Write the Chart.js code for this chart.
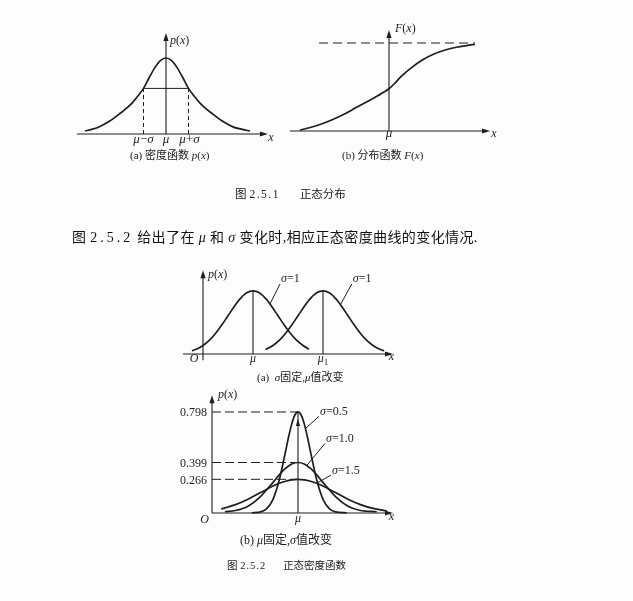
<!DOCTYPE html>
<html><head><meta charset="utf-8">
<script src="https://cdn.jsdelivr.net/npm/chart.js@4.4.1/dist/chart.umd.min.js"></script>
<style>
html,body{margin:0;padding:0;background:#fdfdfd;}
#wrap{position:relative;width:633px;height:601px;overflow:hidden;background:#fdfdfd;}
#c{position:absolute;left:0;top:0;}
.t{position:absolute;white-space:nowrap;color:#1a1a1a;font-family:"Liberation Serif","Noto Sans CJK SC",serif;line-height:1;}
.t i{font-style:italic;}
</style></head>
<body><div id="wrap">
<canvas id="c" width="633" height="601"></canvas>
<div class="t" style="left:130px;top:149.5px;font-size:11px">(a) 密度函数 <i>p</i>(<i>x</i>)</div>
<div class="t" style="left:342px;top:149.5px;font-size:11px">(b) 分布函数 <i>F</i>(<i>x</i>)</div>
<div class="t" style="left:235px;top:189px;font-size:11.5px">图&nbsp;<span style="letter-spacing:1.5px">2.5.1</span><span style="margin-left:20px">正态分布</span></div>
<div class="t" style="left:72px;top:231px;font-size:14px;letter-spacing:0.4px;color:#111">图 <span style="letter-spacing:3px">2.5.2</span> 给出了在 <i>μ</i> 和 <i>σ</i> 变化时,相应正态密度曲线的变化情况.</div>
<div class="t" style="left:257px;top:371.5px;font-size:11px">(a)&nbsp; <i>σ</i>固定,<i>μ</i>值改变</div>
<div class="t" style="left:240px;top:534px;font-size:12px">(b) <i>μ</i>固定,<i>σ</i>值改变</div>
<div class="t" style="left:227px;top:561px;font-size:10.5px">图&nbsp;<span style="letter-spacing:1px">2.5.2</span><span style="margin-left:17px">正态密度函数</span></div>
</div>
<script>
const INK = '#1e1e1e';
const W = 633, H = 601;

// ---------- DATA ----------
// Fig 2.5.1 (a) density p(x): x in units of sigma from mu, y relative to peak
const densityX = [-3.6,-3.3,-3.0,-2.5,-2.0,-1.75,-1.5,-1.25,-1.0,-0.75,-0.5,-0.25,0,0.25,0.5,0.75,1.0,1.25,1.5,1.75,2.0,2.5,3.0,3.4,3.73];
const densityY = [0.04,0.06,0.09,0.17,0.28,0.34,0.41,0.50,0.60,0.74,0.87,0.965,1.00,0.965,0.87,0.74,0.60,0.50,0.41,0.34,0.28,0.17,0.09,0.06,0.04];
const sigmaX = [-1, 1];
const sigmaLevel = 0.60;
const densityTickLabels = ['μ−σ','μ','μ+σ'];

// Fig 2.5.1 (b) distribution F(x)
const cdfX = [-3.96,-3.5,-3.0,-2.5,-2.0,-1.5,-1.0,-0.5,-0.25,0,0.25,0.5,1.0,1.5,2.0,2.5,3.0,3.5,3.82];
const cdfY = [0.01,0.04,0.08,0.13,0.19,0.26,0.33,0.40,0.44,0.48,0.54,0.61,0.72,0.81,0.875,0.92,0.952,0.973,0.985];
const cdfLimit = 1;
const cdfLimitX = [-3.11, 3.82];

// Fig 2.5.2 (a) sigma fixed, mu changes
const muValues = [2, 4.8];
const muLabels = ['μ','μ₁'];
const shiftCurve1X = [-0.44,-0.25,0,0.25,0.5,0.75,1,1.25,1.5,1.75,2,2.25,2.5,2.75,3,3.25,3.5,3.75,4,4.24];
const shiftCurve1Y = [0.020,0.032,0.054,0.086,0.130,0.183,0.242,0.301,0.352,0.387,0.399,0.387,0.352,0.301,0.242,0.183,0.130,0.086,0.054,0.030];
const shiftCurve2X = [2.5,2.8,3.05,3.3,3.55,3.8,4.05,4.3,4.55,4.8,5.05,5.3,5.55,5.8,6.05,6.3,6.55,6.8,7.05,7.24];
const shiftCurve2Y = [0.028,0.054,0.086,0.130,0.183,0.242,0.301,0.352,0.387,0.399,0.387,0.352,0.301,0.242,0.183,0.130,0.086,0.054,0.032,0.020];
const shiftLabels = ['σ=1','σ=1'];

// Fig 2.5.2 (b) mu fixed, sigma changes
const s05X = [-1.85,-1.5,-1.25,-1,-0.75,-0.5,-0.375,-0.25,-0.125,0,0.125,0.25,0.375,0.5,0.75,1,1.25,1.5,1.95];
const s05Y = [0.002,0.009,0.035,0.108,0.260,0.484,0.602,0.704,0.774,0.798,0.774,0.704,0.602,0.484,0.260,0.108,0.035,0.009,0.002];
const s10X = [-2.92,-2.5,-2,-1.5,-1,-0.75,-0.5,-0.25,0,0.25,0.5,0.75,1,1.5,2,2.5,3.15];
const s10Y = [0.010,0.020,0.054,0.130,0.242,0.301,0.352,0.387,0.399,0.387,0.352,0.301,0.242,0.130,0.054,0.020,0.010];
const s15X = [-3.07,-2.5,-2,-1.5,-1,-0.75,-0.5,-0.25,0,0.25,0.5,0.75,1,1.5,2,2.5,3,3.55];
const s15Y = [0.032,0.066,0.109,0.161,0.213,0.235,0.251,0.262,0.266,0.262,0.251,0.235,0.213,0.161,0.109,0.066,0.036,0.016];
const peakValues = [0.798,0.399,0.266];
const peakLabels = ['0.798','0.399','0.266'];
const sigmaLabels = ['σ=0.5','σ=1.0','σ=1.5'];

// ---------- LAYOUT (pixel mapping of each panel) ----------
const layout = {
  a:{x0:166, sx:22.5, y0:134, sy:76},
  b:{x0:389, sx:22.5, y0:131, sy:88},
  c:{x0:203, sx:25,   y0:354, sy:158},
  d:{x0:298, sx:25,   y0:513, sy:126.6}
};
const axes = {
  a:{x:[-3.96,4.53], yAt:0, y:[0,1.33]},
  b:{x:[-4.4,4.49], yAt:0, y:[0,1.148]},
  c:{x:[-0.8,7.6], yAt:0, y:[-0.04,0.53]},
  d:{x:[-3.44,3.8], yAt:-3.44, y:[0,0.93]}
};
const leaders = {
  c:[[[3.08,0.443],[2.68,0.317]], [[5.95,0.443],[5.5,0.313]]],
  d:[[[0.84,0.764],[0.30,0.667]], [[1.08,0.55],[0.35,0.375]], [[1.32,0.30],[0.75,0.235]]]
};

const labels = {
  a:[
    {at:[0,axes.a.y[1]], dx:4, dy:11, align:'left', text:'p(x)'},
    {at:[axes.a.x[1],0], dx:3, dy:7, text:'x'},
    {at:[sigmaX[0],0], dy:8.5, text:densityTickLabels[0], size:13},
    {at:[0,0], dy:8.5, text:densityTickLabels[1], size:13},
    {at:[sigmaX[1],0], dx:1, dy:8.5, text:densityTickLabels[2], size:13}
  ],
  b:[
    {at:[0,axes.b.y[1]], dx:6, dy:2.5, align:'left', text:'F(x)'},
    {at:[0,0], dy:6, text:'μ', size:13},
    {at:[axes.b.x[1],0], dx:4, dy:6, text:'x'}
  ],
  c:[
    {at:[0,axes.c.y[1]], dx:5, dy:8, align:'left', text:'p(x)'},
    {at:[axes.c.x[1],0], dx:-1.5, dy:6, text:'x'},
    {at:[0,0], dx:-4.5, dy:7.5, align:'right', text:'O'},
    {at:[muValues[0],0], dy:7.5, text:muLabels[0]},
    {at:[muValues[1],0], dy:7.5, text:muLabels[1]},
    {at:leaders.c[0][0], dx:1, dy:-2, align:'left', text:shiftLabels[0]},
    {at:leaders.c[1][0], dx:1, dy:-2, align:'left', text:shiftLabels[1]}
  ],
  d:[
    {at:[axes.d.yAt,axes.d.y[1]], dx:6, dy:3, align:'left', text:'p(x)'},
    {at:[axes.d.yAt,0], dx:-3, dy:10, align:'right', text:'O'},
    {at:[0,0], dy:9, text:'μ'},
    {at:[axes.d.x[1],0], dx:-1.5, dy:7, text:'x'},
    ...peakValues.map((v,i)=>({at:[axes.d.yAt,v], dx:-5, dy:4.5, align:'right', text:peakLabels[i]})),
    ...sigmaLabels.map((s,i)=>({at:leaders.d[i][0], dx:1, dy:-1, align:'left', text:s}))
  ]
};

// ---------- helpers ----------
const P = (xs,ys)=>xs.map((x,i)=>({x, y:ys[i]}));
const Q = pairs=>pairs.map(p=>({x:p[0], y:p[1]}));
function curve(k,data){ return {data, xAxisID:'x'+k, yAxisID:'y'+k, showLine:true, borderColor:INK, borderWidth:1.7, pointRadius:0, pointHoverRadius:0, cubicInterpolationMode:'monotone', fill:false}; }
function rule(k,data,dash,w){ return {data, xAxisID:'x'+k, yAxisID:'y'+k, showLine:true, borderColor:INK, borderWidth:w||1, borderDash:dash||[], pointRadius:0, pointHoverRadius:0, tension:0, fill:false}; }

const scales = {};
for (const k of Object.keys(layout)) {
  const L = layout[k];
  scales['x'+k] = {type:'linear', axis:'x', position:'bottom', display:false, bounds:'data', min:-L.x0/L.sx, max:(W-L.x0)/L.sx};
  scales['y'+k] = {type:'linear', axis:'y', position:'left', display:false, bounds:'data', min:-(H-L.y0)/L.sy, max:L.y0/L.sy};
}

const datasets = [
  curve('a', P(densityX,densityY)),
  ...sigmaX.map(x=>rule('a', [{x,y:0},{x,y:sigmaLevel}], [4,3])),
  rule('a', [{x:sigmaX[0],y:sigmaLevel},{x:sigmaX[1],y:sigmaLevel}]),
  curve('b', P(cdfX,cdfY)),
  rule('b', [{x:cdfLimitX[0],y:cdfLimit},{x:cdfLimitX[1],y:cdfLimit}], [9,5]),
  curve('c', P(shiftCurve1X,shiftCurve1Y)),
  curve('c', P(shiftCurve2X,shiftCurve2Y)),
  rule('c', [{x:muValues[0],y:0},{x:muValues[0],y:Math.max(...shiftCurve1Y)}], null, 1.1),
  rule('c', [{x:muValues[1],y:0},{x:muValues[1],y:Math.max(...shiftCurve2Y)}], null, 1.1),
  ...leaders.c.map(l=>rule('c', Q(l))),
  curve('d', P(s05X,s05Y)),
  curve('d', P(s10X,s10Y)),
  curve('d', P(s15X,s15Y)),
  ...peakValues.map(v=>rule('d', [{x:axes.d.yAt,y:v},{x:0,y:v}], [9,4])),
  rule('d', [{x:0,y:0},{x:0,y:peakValues[0]}], null, 1.1),
  ...leaders.d.map(l=>rule('d', Q(l)))
];

function arrowLine(ctx,x1,y1,x2,y2){
  const a=Math.atan2(y2-y1,x2-x1), L=8, w=2.6, c=Math.cos(a), s=Math.sin(a);
  ctx.beginPath(); ctx.moveTo(x1,y1); ctx.lineTo(x2-c*L*0.6, y2-s*L*0.6); ctx.stroke();
  ctx.beginPath(); ctx.moveTo(x2,y2);
  ctx.lineTo(x2-L*c+w*s, y2-L*s-w*c);
  ctx.lineTo(x2-L*c-w*s, y2-L*s+w*c);
  ctx.closePath(); ctx.fill();
}
function runs(str){
  const out=[];
  for (const ch of str){
    let st = /[A-Za-z\u03b1-\u03c9\u00b5]/.test(ch) ? 'i' : 'r';
    let t = ch;
    if (ch==='₁'){ st='s'; t='1'; }
    if (out.length && out[out.length-1][1]===st) out[out.length-1][0]+=t; else out.push([t,st]);
  }
  return out;
}
function drawRich(ctx, str, x, y, align, size){
  const parts = runs(str);
  const fontFor = s => (s==='i'?'italic ':'') + (s==='s'? Math.round(size*0.72) : size) + 'px "Liberation Serif"';
  let total=0;
  for (const [t,s] of parts){ ctx.font=fontFor(s); total+=ctx.measureText(t).width; }
  let cx = align==='left'? x : align==='right'? x-total : x-total/2;
  ctx.textBaseline='alphabetic'; ctx.textAlign='left'; ctx.fillStyle=INK;
  for (const [t,s] of parts){ ctx.font=fontFor(s); ctx.fillText(t, cx, y + (s==='s'? size*0.3 : 0)); cx+=ctx.measureText(t).width; }
}

const sketch = {
  id:'sketch',
  afterDatasetsDraw(chart){
    const ctx = chart.ctx;
    for (const k of Object.keys(axes)) {
      const xs = chart.scales['x'+k], ys = chart.scales['y'+k];
      const X = v=>xs.getPixelForValue(v), Y = v=>ys.getPixelForValue(v);
      const a = axes[k];
      ctx.save(); ctx.strokeStyle=INK; ctx.fillStyle=INK; ctx.lineWidth=1.1;
      arrowLine(ctx, X(a.x[0]), Y(0), X(a.x[1]), Y(0));
      arrowLine(ctx, X(a.yAt), Y(a.y[0]), X(a.yAt), Y(a.y[1]));
      if (k==='d') {
        const px=X(0), py=Y(peakValues[0])+7;
        ctx.beginPath(); ctx.moveTo(px,py); ctx.lineTo(px-2.2,py+7); ctx.lineTo(px+2.2,py+7); ctx.closePath(); ctx.fill();
      }
      for (const L of labels[k]) drawRich(ctx, L.text, X(L.at[0])+(L.dx||0), Y(L.at[1])+(L.dy||0), L.align||'center', L.size||12);
      ctx.restore();
    }
  }
};

new Chart(document.getElementById('c'), {
  type:'scatter',
  data:{datasets},
  options:{
    responsive:false, animation:false, devicePixelRatio:1, events:[],
    layout:{padding:0},
    plugins:{legend:{display:false}, tooltip:{enabled:false}, title:{display:false}},
    scales
  },
  plugins:[sketch]
});
</script>
</body></html>
